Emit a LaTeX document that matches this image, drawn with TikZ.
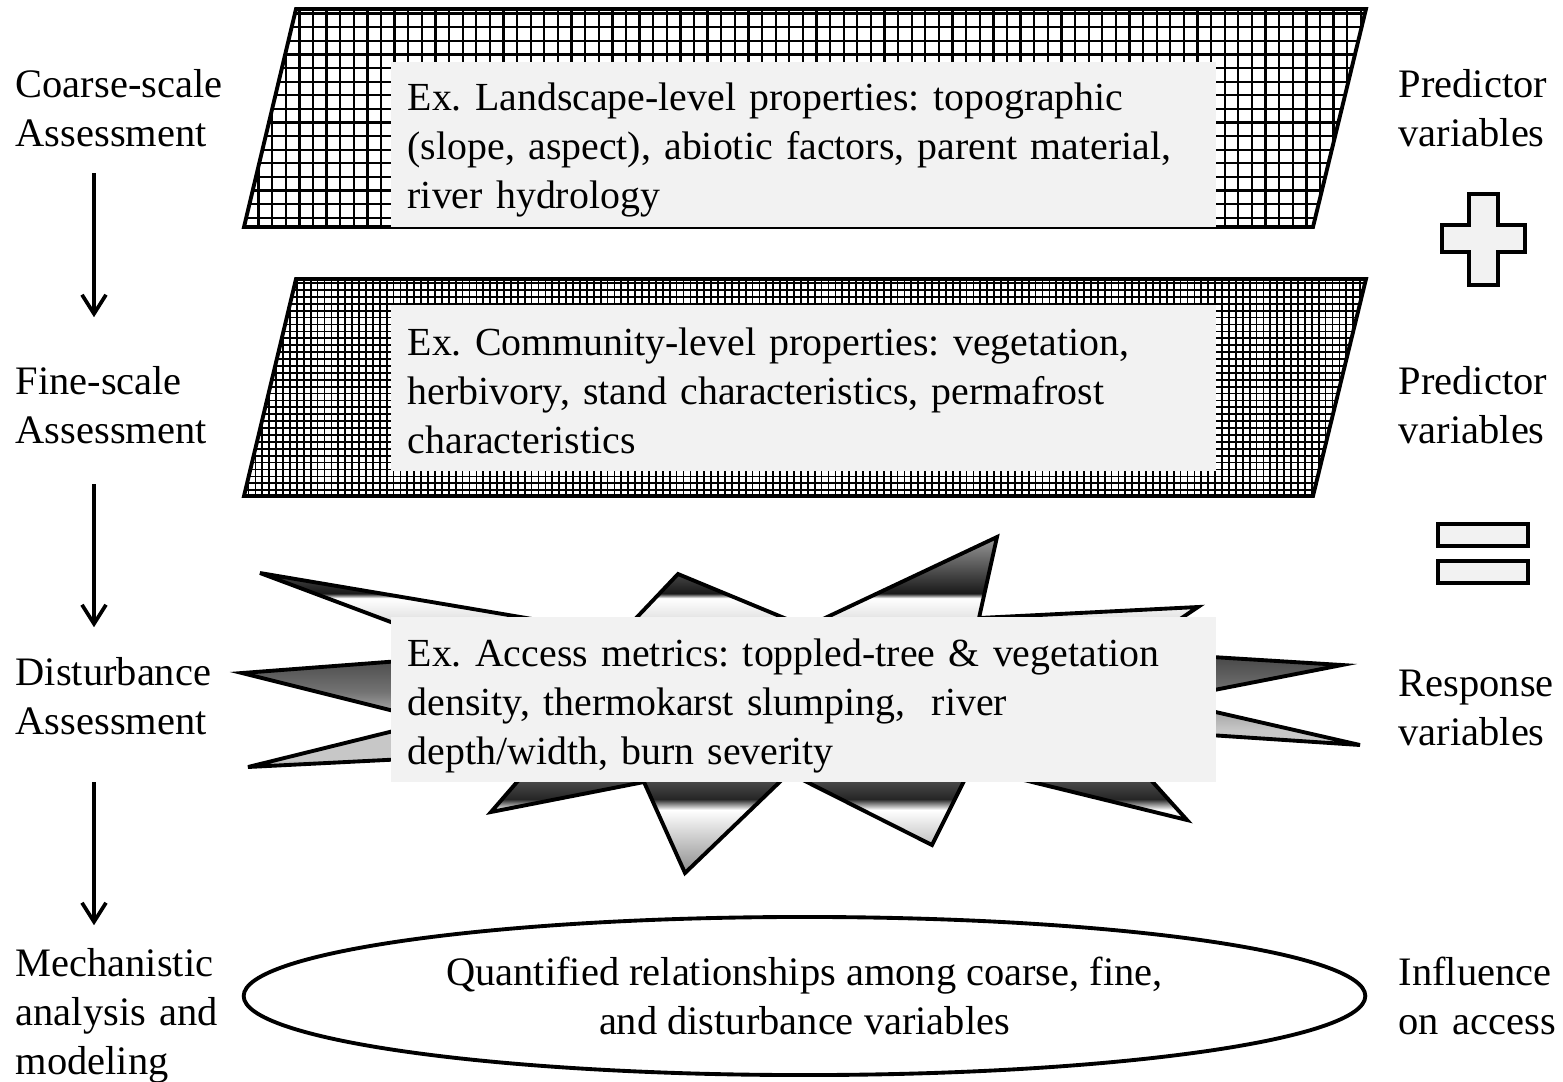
\documentclass[tikz,border=0pt]{standalone}
\usepackage{fontspec}
\setmainfont{Liberation Serif}
\usetikzlibrary{arrows.meta}
\usetikzlibrary{shapes.geometric}
\frenchspacing

\definecolor{boxgray}{HTML}{F2F2F2}
\pgfdeclareverticalshading{chrome}{100bp}{color(0bp)=(black!45); color(25bp)=(black!45);
  color(34.4bp)=(white); color(36bp)=(black!85); color(39bp)=(black!70);
  color(41.8bp)=(black!22); color(46.3bp)=(black!22); color(49bp)=(black!35);
  color(52bp)=(black!55); color(56.7bp)=(black!70); color(60bp)=(black!50);
  color(62.6bp)=(black!12); color(65.9bp)=(white); color(66.6bp)=(black!90);
  color(71.6bp)=(black!60); color(75bp)=(black!40); color(100bp)=(black!40)}

\begin{document}
\begin{tikzpicture}[x=0.01cm,y=-0.01cm]
    \tikzset{sidetext/.style = {anchor=base west,inner sep=0,text width=2.3cm,align=left,font=\fontsize{11.5}{13.94}\selectfont}}
    \tikzset{infobox/.style = {rectangle,fill=boxgray,minimum width=8.25cm,minimum height=1.65cm,inner sep=0}}
    \tikzset{boxtext/.style = {anchor=base west,inner sep=0,text width=8cm,align=left,font=\fontsize{11.33}{13.94}\selectfont}}
    \tikzset{slab/.style = {line width=1.1pt,line join=miter}}
    \tikzset{signbox/.style = {draw,line width=1.1pt,fill=boxgray}}
    \tikzset{flow/.style = {line width=1.05pt,-{Straight Barb[length=1.9mm,width=2.4mm,line width=1.05pt]}}}

    \useasboundingbox (0,0) rectangle (1563,1081);

    % coarse layer
    \begin{scope}
      \clip (244,227) -- (296,9) -- (1366,9) -- (1313,227) -- cycle;
      \fill[white] (240,0) rectangle (1370,230);
      \draw[line width=0.65pt,xstep=0.136cm,ystep=0.136cm] (240,0) grid (1370,230);
    \end{scope}
    \draw[slab] (244,227) -- (296,9) -- (1366,9) -- (1313,227) -- cycle;
    \node[infobox] (land) at (803.5,144.5) {};
    \node[boxtext] (landtext) at (407,110) {Ex. Landscape-level properties: topographic\\(slope, aspect), abiotic factors, parent material,\\river hydrology};

    % fine layer
    \begin{scope}
      \clip (244,496) -- (296,279) -- (1366,279) -- (1313,496) -- cycle;
      \fill[white] (240,270) rectangle (1370,500);
      \draw[line width=0.5pt,xstep=0.069cm,ystep=0.069cm] (240,270) grid (1370,500);
    \end{scope}
    \draw[slab] (244,496) -- (296,279) -- (1366,279) -- (1313,496) -- cycle;
    \node[infobox] (comm) at (803.5,388) {};
    \node[boxtext] (commtext) at (407,355) {Ex. Community-level properties: vegetation,\\herbivory, stand characteristics, permafrost\\characteristics};

    % disturbance burst
    \shadedraw[shading=chrome,line width=1.1pt,line join=miter]
      (242,673) -- (479,655) -- (260,573) -- (621,634) -- (678,574) -- (806,627)
      -- (997,537) -- (979,618) -- (1198,607) -- (1131,652) -- (1342,665) -- (1163,700)
      -- (1360,745) -- (1104,728) -- (1187,820) -- (971,767) -- (932,845) -- (789,773)
      -- (685,873) -- (644,782) -- (491,812) -- (543,752) -- (248,767) -- (434,721) -- cycle;
    \node[infobox] (access) at (803.5,699.5) {};
    \node[boxtext] (accesstext) at (407,666) {Ex. Access metrics: toppled-tree \& vegetation\\density, thermokarst slumping,~ river\\depth/width, burn severity};

    % model
    \node[draw,ellipse,line width=1.1pt,fill=white,minimum width=11.21cm,minimum height=1.58cm,inner sep=0,align=center,font=\fontsize{11.5}{13.94}\selectfont] (quant) at (804.5,996) {Quantified relationships among coarse, fine,\\and disturbance variables};

    % left column
    \node[sidetext] (coarse) at (15,97) {Coarse-scale\\Assessment};
    \node[sidetext] (fine) at (15,394.5) {Fine-scale\\Assessment};
    \node[sidetext] (dist) at (15,685.5) {Disturbance\\Assessment};
    \node[sidetext] (mech) at (15,976.5) {Mechanistic\\analysis and\\modeling};

    \coordinate (ax) at (94,0);
    \draw[flow,shorten <=0.26cm,shorten >=0.485cm] (coarse.south -| ax) -- (fine.north -| ax);
    \draw[flow,shorten <=0.395cm,shorten >=0.295cm] (fine.south -| ax) -- (dist.north -| ax);
    \draw[flow,shorten <=0.465cm,shorten >=0.225cm] (dist.south -| ax) -- (mech.north -| ax);

    % right column
    \node[sidetext] (pred1) at (1398,97) {Predictor\\variables};
    \node[sidetext] (pred2) at (1398,394.5) {Predictor\\variables};
    \node[sidetext] (resp) at (1398,696.5) {Response\\variables};
    \node[sidetext] (infl) at (1398,985.5) {Influence\\on access};

    \draw[signbox] (1469,194) -- (1498,194) -- (1498,225) -- (1525,225) -- (1525,252) -- (1498,252)
      -- (1498,285) -- (1469,285) -- (1469,252) -- (1442,252) -- (1442,225) -- (1469,225) -- cycle;
    \draw[signbox] (1438,524) rectangle (1528,546);
    \draw[signbox] (1438,561) rectangle (1528,583);
\end{tikzpicture}
\end{document}
